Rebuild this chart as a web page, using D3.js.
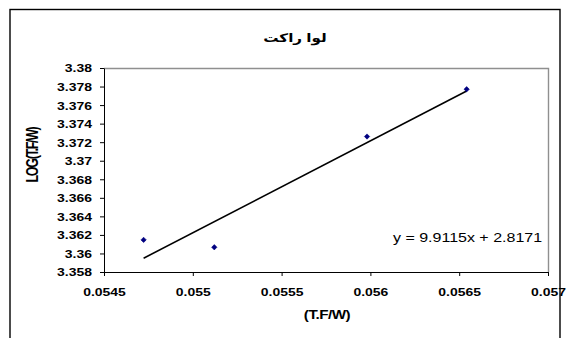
<!DOCTYPE html>
<html>
<head>
<meta charset="utf-8">
<script src="https://cdn.jsdelivr.net/npm/d3@7"></script>
<style>
  body { margin: 0; background: #fff; }
  svg { display: block; }
  text { font-family: Arial, "Liberation Sans", "DejaVu Sans", sans-serif; fill: #000; }
</style>
</head>
<body>
<svg id="chart" width="569" height="338"></svg>
<script>
// Texts
const chartTitle = "لوا راکت";
const xTitle = "(T.F/W)";
const yTitle = "LOG(T.F/W)";

// Measured points
const xValues = [0.054723, 0.055121, 0.055981, 0.056542];
const yValues = [3.361464, 3.360668, 3.372610, 3.377710];

// Linear trendline coefficients
const trendSlope = 9.9115;
const trendIntercept = 2.8171;
const trendLabel = "y = 9.9115x + 2.8171";

// Axis ticks and their labels
const xTicks = [0.0545, 0.055, 0.0555, 0.056, 0.0565, 0.057];
const xTickLabels = ["0.0545", "0.055", "0.0555", "0.056", "0.0565", "0.057"];
const yTicks = [3.358, 3.36, 3.362, 3.364, 3.366, 3.368, 3.37, 3.372, 3.374, 3.376, 3.378, 3.38];
const yTickLabels = ["3.358", "3.36", "3.362", "3.364", "3.366", "3.368", "3.37", "3.372", "3.374", "3.376", "3.378", "3.38"];

// Horizontal widening of the chart's lettering
const SX = 1.27;

const svg = d3.select("#chart");

// Outer chart frame
svg.append("rect")
  .attr("x", 10).attr("y", 9.5)
  .attr("width", 550).attr("height", 340)
  .attr("fill", "#fff")
  .attr("stroke", "#000")
  .attr("stroke-width", 1.4);

const x = d3.scaleLinear().domain([0.0545, 0.057]).range([104, 548]);
const y = d3.scaleLinear().domain([3.358, 3.38]).range([272, 68]);

// Plot area border (top and right)
svg.append("path")
  .attr("d", `M${x.range()[0]},${y.range()[1] + 0.5}H${x.range()[1] + 0.5}V${y.range()[0]}`)
  .attr("fill", "none")
  .attr("stroke", "#8f8f8f")
  .attr("stroke-width", 1.4);

// Y axis
const gy = svg.append("g")
  .attr("transform", `translate(${x.range()[0]},0)`)
  .call(d3.axisLeft(y).tickValues(yTicks).tickSize(4).tickSizeOuter(0)
    .tickFormat((d, i) => yTickLabels[i]));
gy.selectAll("text")
  .attr("x", -12 / SX)
  .attr("dy", "0.36em")
  .attr("transform", `scale(${SX},1)`)
  .style("font-size", "11px")
  .style("font-weight", "bold")
  .style("font-family", "Arial, 'Liberation Sans', sans-serif");

// X axis
const gx = svg.append("g")
  .attr("transform", `translate(0,${y.range()[0]})`)
  .call(d3.axisBottom(x).tickValues(xTicks).tickSize(4).tickSizeOuter(0)
    .tickFormat((d, i) => xTickLabels[i]));
gx.selectAll("text")
  .attr("y", 16)
  .attr("dy", "0.71em")
  .attr("transform", `scale(${SX},1)`)
  .style("font-size", "11px")
  .style("font-weight", "bold")
  .style("font-family", "Arial, 'Liberation Sans', sans-serif");

[gx, gy].forEach(g => {
  g.select(".domain").attr("stroke", "#000");
  g.selectAll(".tick line").attr("stroke", "#000");
});

// Trendline across the data range
const xExt = d3.extent(xValues);
svg.append("line")
  .attr("x1", x(xExt[0])).attr("y1", y(trendSlope * xExt[0] + trendIntercept))
  .attr("x2", x(xExt[1])).attr("y2", y(trendSlope * xExt[1] + trendIntercept))
  .attr("stroke", "#000")
  .attr("stroke-width", 1.6);

// Data markers
const diamond = d3.symbol().type(d3.symbolSquare).size(14);
svg.append("g").selectAll("path")
  .data(xValues.map((v, i) => [v, yValues[i]]))
  .join("path")
  .attr("d", diamond)
  .attr("transform", d => `translate(${x(d[0])},${y(d[1])}) rotate(45)`)
  .attr("fill", "#000080")
  .attr("stroke", "#000080")
  .attr("stroke-width", 0.6);

// Trendline equation
svg.append("g")
  .attr("transform", `translate(393,242) scale(${SX},1)`)
  .append("text")
  .style("font-size", "12.6px")
  .text(trendLabel);

// Chart title
svg.append("g")
  .attr("transform", `translate(295,42) scale(${SX},1)`)
  .append("text")
  .attr("text-anchor", "middle")
  .attr("direction", "rtl")
  .style("font-size", "12px")
  .style("font-weight", "bold")
  .text(chartTitle);

// X axis title
svg.append("g")
  .attr("transform", `translate(${(x.range()[0] + x.range()[1]) / 2 + 1},319) scale(${SX},1)`)
  .append("text")
  .attr("text-anchor", "middle")
  .style("font-size", "12px")
  .style("font-weight", "bold")
  .style("letter-spacing", "-0.4px")
  .text(xTitle);

// Y axis title
svg.append("g")
  .attr("transform", `translate(37.5,155) scale(${SX},1) rotate(-90)`)
  .append("text")
  .attr("text-anchor", "middle")
  .style("font-size", "12.5px")
  .style("font-weight", "bold")
  .style("letter-spacing", "-1.3px")
  .text(yTitle);
</script>
</body>
</html>
